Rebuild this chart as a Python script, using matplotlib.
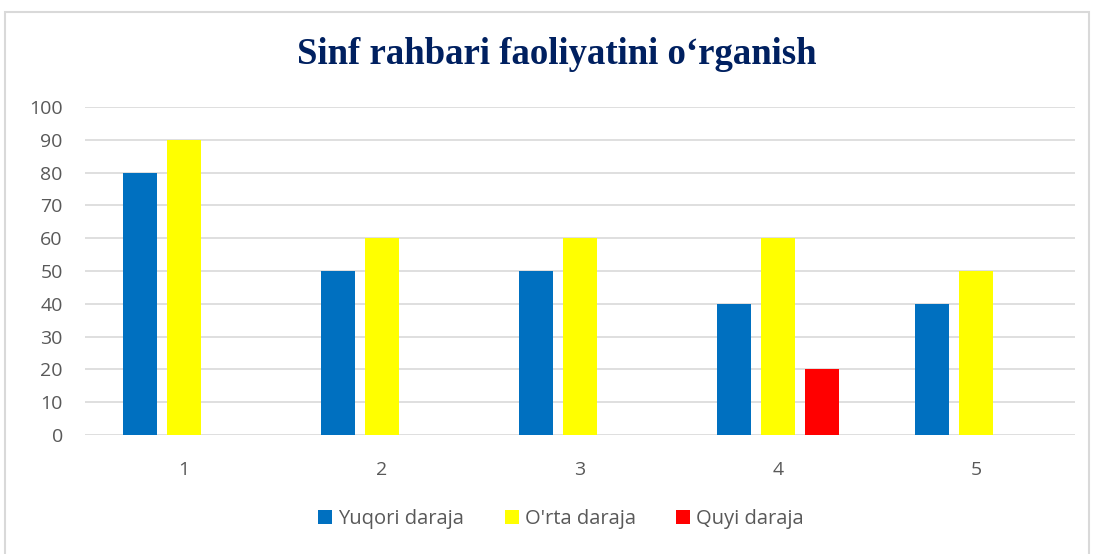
import matplotlib.pyplot as plt
import numpy as np
from matplotlib.patches import Rectangle

# chart data
categories = ["1", "2", "3", "4", "5"]
series_names = ["Yuqori daraja", "O'rta daraja", "Quyi daraja"]
yuqori = [80, 50, 50, 40, 40]
orta = [90, 60, 60, 60, 50]
quyi = [0, 0, 0, 20, 0]
colors = ["#0070C0", "#FFFF00", "#FF0000"]
y_ticks = [0, 10, 20, 30, 40, 50, 60, 70, 80, 90, 100]

W, H = 1094, 554
fig = plt.figure(figsize=(W / 100, H / 100), dpi=100)
fig.patch.set_facecolor("white")

# outer chart frame
fig.patches.append(Rectangle((5 / W, -0.05), 1084 / W, 1 - 12 / H + 0.05,
                             transform=fig.transFigure, fill=False,
                             edgecolor="#D9D9D9", linewidth=1.5))

ax = fig.add_axes([85 / W, 1 - 435 / H, 990 / W, 328 / H])
x = np.arange(len(categories))
width = 0.172
offset = 0.222
for i, (vals, name) in enumerate(zip([yuqori, orta, quyi], series_names)):
    ax.bar(x + (i - 1) * offset, vals, width, color=colors[i], label=name, zorder=3)

ax.set_xlim(-0.5, len(categories) - 0.5)
ax.set_ylim(0, 100)
ax.set_yticks(y_ticks)
ax.set_xticks(x)
ax.set_xticklabels(categories)
ax.grid(axis="y", color="#D9D9D9", linewidth=1.2, zorder=0)
for s in ax.spines.values():
    s.set_visible(False)
ax.tick_params(length=0, colors="#595959", labelsize=14)
ax.tick_params(axis="y", pad=16)
ax.tick_params(axis="x", pad=19)
for lbl in ax.get_xticklabels() + ax.get_yticklabels():
    lbl.set_family("Open Sans")

fig.text(557 / W, 1 - 55 / H, "Sinf rahbari faoliyatini o\u2018rganish",
         ha="center", va="center", fontsize=26.5, fontweight="bold",
         family="Liberation Serif", color="#002060")

leg = fig.legend(loc="center", bbox_to_anchor=(561 / W, 1 - 519 / H), ncol=3,
                 frameon=False, handlelength=0.7, handleheight=0.7,
                 columnspacing=2.0, handletextpad=0.3,
                 prop={"family": "Open Sans", "size": 14.5})
for t in leg.get_texts():
    t.set_color("#595959")

fig.savefig("out.png", dpi=100)
